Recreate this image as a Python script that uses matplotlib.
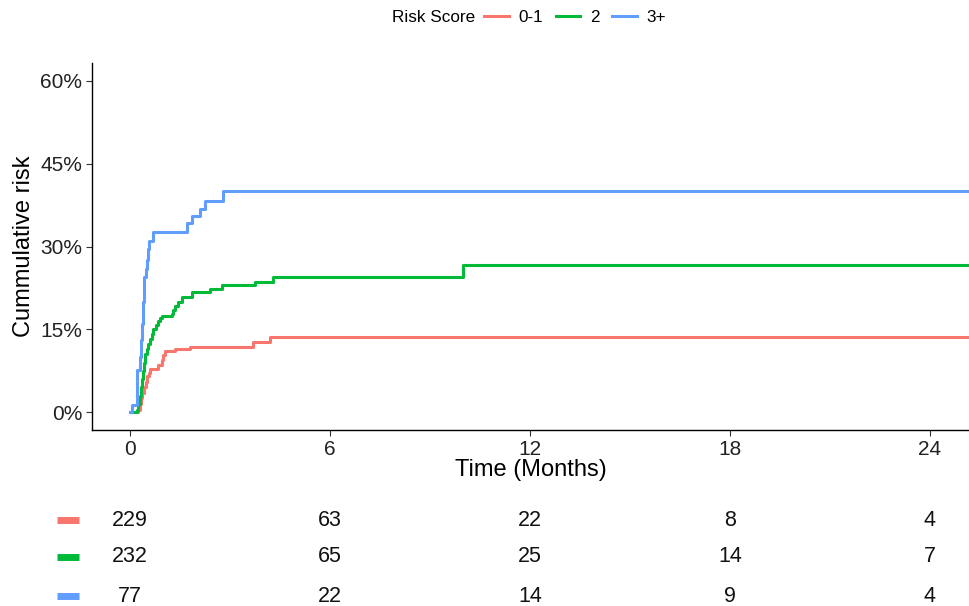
import numpy as np
import matplotlib.pyplot as plt
from matplotlib.lines import Line2D
from matplotlib.ticker import FuncFormatter
from matplotlib.transforms import blended_transform_factory

plt.rcParams['font.family'] = ['Liberation Sans', 'DejaVu Sans']

# step points (months, cumulative risk %)
t_low = [0, 0.25, 0.3, 0.33, 0.37, 0.42, 0.47, 0.52, 0.58, 0.6, 0.85, 0.95, 1.0, 1.05, 1.35, 1.8, 3.7, 4.2]
r_low = [0, 0.5, 1.5, 2.5, 3.5, 4.5, 5.5, 6.5, 7.2, 7.9, 8.6, 9.4, 10.3, 11.1, 11.4, 11.9, 12.7, 13.6]

t_mid = [0, 0.2, 0.25, 0.3, 0.33, 0.36, 0.4, 0.43, 0.45, 0.5, 0.55, 0.6, 0.65, 0.7, 0.78, 0.85, 0.9,
         0.95, 1.25, 1.3, 1.35, 1.45, 1.55, 1.85, 2.4, 2.75, 3.75, 4.3, 10.0]
r_mid = [0, 0.5, 1.5, 3.0, 4.5, 6.0, 7.5, 9.0, 10.6, 11.5, 12.3, 13.2, 14.2, 15.1, 15.8, 16.5, 17.1,
         17.5, 17.8, 18.6, 19.3, 20.0, 20.8, 21.7, 22.4, 23.0, 23.6, 24.4, 26.6]

t_high = [0, 0.05, 0.2, 0.22, 0.3, 0.33, 0.36, 0.39, 0.42, 0.48, 0.52, 0.55, 0.58, 0.7, 1.7, 1.85, 2.1, 2.25, 2.8]
r_high = [0, 1.3, 5.0, 7.6, 10.0, 13.0, 16.0, 20.0, 24.5, 26.0, 27.5, 29.5, 31.0, 32.6, 34.2, 35.5, 36.8, 38.3, 40.0]

groups = ['0-1', '2', '3+']
colors = ['#F8766D', '#00BA38', '#619CFF']

# number at risk
risk_times = [0, 6, 12, 18, 24]
at_risk_low = [229, 63, 22, 8, 4]
at_risk_mid = [232, 65, 25, 14, 7]
at_risk_high = [77, 22, 14, 9, 4]

x_end = 25.2

fig = plt.figure(figsize=(9.7, 6.06), dpi=100)
ax = fig.add_axes([92 / 970, 1 - 430 / 606, 1 - 92 / 970, (430 - 63) / 606])

series = [(t_low, r_low), (t_mid, r_mid), (t_high, r_high)]
for (t, r), c in zip(series, colors):
    tt = list(t) + [x_end]
    rr = list(r) + [r[-1]]
    ax.step(tt, rr, where='post', color=c, lw=2.2)

ax.set_xlim(-1.14, x_end)
ax.set_ylim(-3.2, 63.2)
ax.set_xticks(risk_times)
ax.set_yticks([0, 15, 30, 45, 60])
ax.yaxis.set_major_formatter(FuncFormatter(lambda v, p: f'{v:.0f}%'))
ax.tick_params(labelsize=15, length=4, width=0.8, color='#333333', labelcolor='#222222', pad=3)
for s in ['top', 'right']:
    ax.spines[s].set_visible(False)
for s in ['left', 'bottom']:
    ax.spines[s].set_linewidth(1.0)
ax.set_xlabel('Time (Months)', fontsize=17, labelpad=0)
ax.set_ylabel('Cummulative risk', fontsize=17, labelpad=4)

# legend on top
fig.text(392 / 970, 1 - 17 / 606, 'Risk Score', fontsize=12.3, va='center', ha='left')
handles = [Line2D([], [], color=c, lw=2.2) for c in colors]
fig.legend(handles, groups, loc='center left', bbox_to_anchor=(484 / 970, 1 - 17 / 606),
           ncol=3, frameon=False, fontsize=12.3, handlelength=1.45, handletextpad=0.55,
           columnspacing=0.75, borderpad=0, borderaxespad=0)

# risk table
trans = blended_transform_factory(ax.transData, fig.transFigure)
rows_y = [1 - 520 / 606, 1 - 557 / 606, 1 - 596 / 606]
tables = [at_risk_low, at_risk_mid, at_risk_high]
for y, vals, c in zip(rows_y, tables, colors):
    ax.plot([-2.19, -1.53], [y, y], color=c, lw=5, transform=trans, clip_on=False,
            solid_capstyle='butt')
    for tx, v in zip(risk_times, vals):
        ax.text(tx, y, str(v), transform=trans, ha='center', va='center', fontsize=15.5,
                color='#111111')

fig.savefig('out.png', dpi=100)
